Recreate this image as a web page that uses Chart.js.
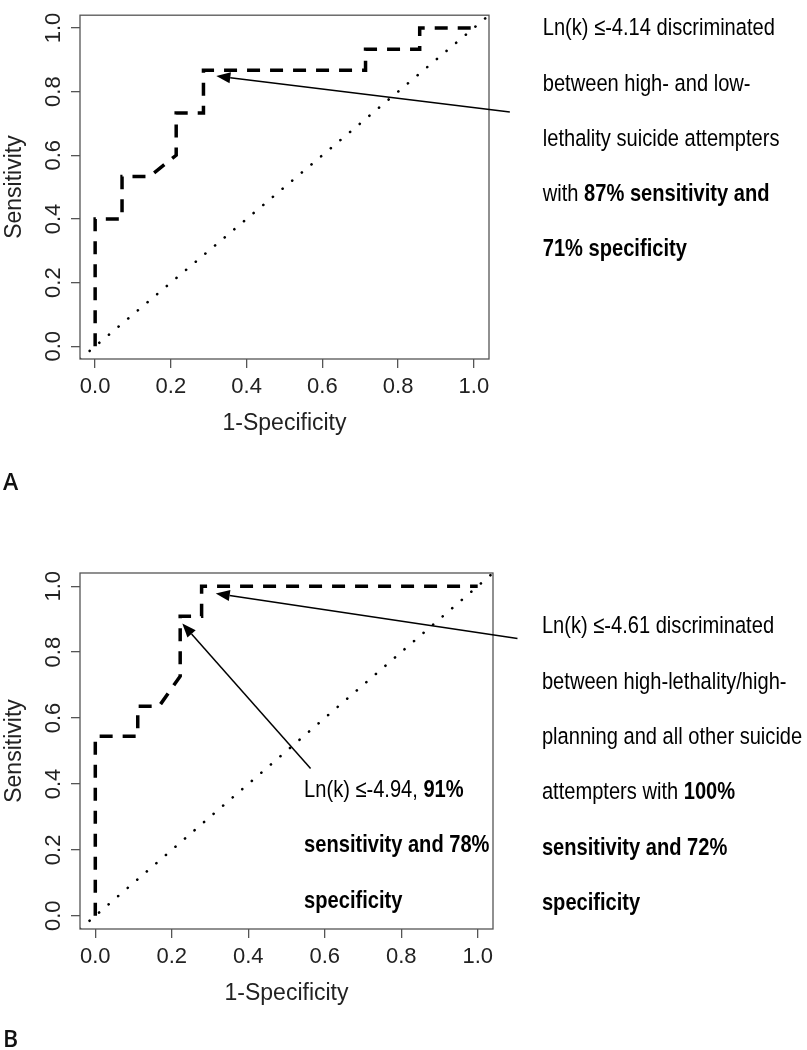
<!DOCTYPE html>
<html>
<head>
<meta charset="utf-8">
<script src="https://cdn.jsdelivr.net/npm/chart.js@4/dist/chart.umd.min.js"></script>
<style>
  html, body { margin: 0; padding: 0; background: #fff; }
  #wrap { position: relative; width: 807px; height: 1050px; }
  canvas { position: absolute; left: 0; }
  #cA { top: 0; }
  #cB { top: 525px; }
</style>
</head>
<body>
<div id="wrap">
  <canvas id="cA" width="807" height="525"></canvas>
  <canvas id="cB" width="807" height="525"></canvas>
</div>
<script>
// ---------- data ----------
const xTicks = [0, 0.2, 0.4, 0.6, 0.8, 1.0];
const yTicks = [0, 0.2, 0.4, 0.6, 0.8, 1.0];
const axisMin = -0.04;
const axisMax = 1.04;
const xTitle = '1-Specificity';
const yTitle = 'Sensitivity';

// Panel A ROC curve (1-specificity, sensitivity)
const rocA_fpr = [0, 0, 0.071, 0.071, 0.143, 0.214, 0.214, 0.286, 0.286, 0.714, 0.714, 0.857, 0.857, 1.0];
const rocA_tpr = [0, 0.400, 0.400, 0.533, 0.533, 0.600, 0.733, 0.733, 0.867, 0.867, 0.933, 0.933, 1.0, 1.0];

// Panel B ROC curve
const rocB_fpr = [0, 0, 0.111, 0.111, 0.167, 0.222, 0.222, 0.278, 0.278, 1.0];
const rocB_tpr = [0, 0.545, 0.545, 0.636, 0.636, 0.727, 0.909, 0.909, 1.0, 1.0];

// chance line (abline 0,1) across the plot region
const refLine = [axisMin, axisMax];

// annotation arrows: [tipX, tipY, tailX, tailY] in data units
const arrowsA = [[0.320, 0.849, 1.095, 0.736]];
const arrowsB = [[0.315, 0.978, 1.104, 0.841], [0.2275, 0.887, 0.563, 0.447]];

// annotation texts: anchor in data units, lines of [text, bold] runs
const textsA = [
  { x: 1.182, y: 0.977, lines: [
    [['Ln(k) \u2264-4.14 discriminated', 0]],
    [['between high- and low-', 0]],
    [['lethality suicide attempters', 0]],
    [['with ', 0], ['87% sensitivity and', 1]],
    [['71% specificity', 1]]
  ]}
];
const textsB = [
  { x: 1.168, y: 0.857, lines: [
    [['Ln(k) \u2264-4.61 discriminated', 0]],
    [['between high-lethality/high-', 0]],
    [['planning and all other suicide', 0]],
    [['attempters with ', 0], ['100%', 1]],
    [['sensitivity and 72%', 1]],
    [['specificity', 1]]
  ]},
  { x: 0.546, y: 0.360, lines: [
    [['Ln(k) \u2264-4.94, ', 0], ['91%', 1]],
    [['sensitivity and 78%', 1]],
    [['specificity', 1]]
  ]}
];
const panelLabels = ['A', 'B'];

// ---------- styles ----------
const FONT = '"Liberation Sans", Arial, sans-serif';
const ANN_SIZE = 24.5, ANN_SCALE = 0.82, ANN_LEAD = 55.3;

const annotPlugin = {
  id: 'annot',
  afterDraw(chart) {
    const cfg = chart.options.plugins.annot;
    const { ctx, chartArea: ca } = chart;
    const xs = chart.scales.x, ys = chart.scales.y;
    ctx.save();
    // box around plot
    ctx.strokeStyle = '#555';
    ctx.lineWidth = 1.3;
    ctx.strokeRect(ca.left, ca.top, ca.right - ca.left, ca.bottom - ca.top);
    // arrows
    ctx.strokeStyle = '#000';
    ctx.fillStyle = '#000';
    ctx.lineWidth = 1.5;
    for (const a of cfg.arrows) {
      const tx = xs.getPixelForValue(a[0]), ty = ys.getPixelForValue(a[1]);
      const sx = xs.getPixelForValue(a[2]), sy = ys.getPixelForValue(a[3]);
      const ang = Math.atan2(ty - sy, tx - sx);
      const L = 14, W = 5.5;
      const bx = tx - L * Math.cos(ang), by = ty - L * Math.sin(ang);
      ctx.beginPath();
      ctx.moveTo(sx, sy);
      ctx.lineTo(bx, by);
      ctx.stroke();
      ctx.beginPath();
      ctx.moveTo(tx, ty);
      ctx.lineTo(bx + W * Math.sin(ang), by - W * Math.cos(ang));
      ctx.lineTo(bx - W * Math.sin(ang), by + W * Math.cos(ang));
      ctx.closePath();
      ctx.fill();
    }
    // texts
    ctx.fillStyle = '#000';
    ctx.textBaseline = 'alphabetic';
    ctx.textAlign = 'left';
    for (const t of cfg.texts) {
      const px = xs.getPixelForValue(t.x), py = ys.getPixelForValue(t.y);
      t.lines.forEach((line, i) => {
        ctx.save();
        ctx.translate(px, py + i * ANN_LEAD);
        ctx.scale(ANN_SCALE, 1);
        let x = 0;
        for (const [s, b] of line) {
          ctx.font = (b ? 'bold ' : '') + ANN_SIZE + 'px ' + FONT;
          ctx.fillText(s, x, 0);
          x += ctx.measureText(s).width;
        }
        ctx.restore();
      });
    }
    // panel label
    ctx.font = '600 23px "Open Sans", sans-serif';
    ctx.fillStyle = '#111';
    ctx.fillText(cfg.label, 3, cfg.labelY);
    ctx.restore();
  }
};

function makeChart(id, fpr, tpr, pad, arrows, texts, label, labelY) {
  const axisCommon = {
    type: 'linear', min: axisMin, max: axisMax,
    grid: { drawOnChartArea: false, drawTicks: true, tickLength: 9, color: '#555', lineWidth: 1.3 },
    border: { display: false }
  };
  return new Chart(document.getElementById(id), {
    type: 'scatter',
    data: {
      datasets: [
        {
          data: fpr.map((x, i) => ({ x: x, y: tpr[i] })),
          showLine: true, borderColor: '#000', borderWidth: 3.5,
          borderDash: [13, 10], pointRadius: 0, tension: 0, fill: false
        },
        {
          data: refLine.map(v => ({ x: v, y: v })),
          showLine: true, borderColor: '#000', borderWidth: 2.6,
          borderDash: [0.1, 12.5], borderCapStyle: 'round', pointRadius: 0, tension: 0, fill: false
        }
      ]
    },
    options: {
      responsive: false, animation: false, events: [],
      layout: { padding: { left: 0, top: pad.top, right: pad.right, bottom: pad.bottom } },
      plugins: {
        legend: { display: false }, tooltip: { enabled: false },
        annot: { arrows: arrows, texts: texts, label: label, labelY: labelY }
      },
      scales: {
        x: Object.assign({}, axisCommon, {
          afterBuildTicks: s => { s.ticks = xTicks.map(v => ({ value: v })); },
          afterFit: s => { s.height = 78; },
          ticks: { autoSkip: false, padding: 6, color: '#222', minRotation: 0, maxRotation: 0,
                   font: { family: FONT, size: 22 }, callback: v => Number(v).toFixed(1) },
          title: { display: true, text: xTitle, color: '#222', font: { family: FONT, size: 23 }, padding: 0 }
        }),
        y: Object.assign({}, axisCommon, {
          afterBuildTicks: s => { s.ticks = yTicks.map(v => ({ value: v })); },
          afterFit: s => { s.width = 80; },
          ticks: { autoSkip: false, padding: 2, color: '#222', minRotation: 90, maxRotation: 90,
                   crossAlign: 'center', font: { family: FONT, size: 22 }, callback: v => Number(v).toFixed(1) },
          title: { display: true, text: yTitle, color: '#222', font: { family: FONT, size: 23 }, padding: { top: 1, bottom: 0 } }
        })
      }
    },
    plugins: [annotPlugin]
  });
}

makeChart('cA', rocA_fpr, rocA_tpr, { top: 7, right: 318, bottom: 88 }, arrowsA, textsA, panelLabels[0], 490);
makeChart('cB', rocB_fpr, rocB_tpr, { top: 48, right: 314, bottom: 43 }, arrowsB, textsB, panelLabels[1], 522);
</script>
</body>
</html>
